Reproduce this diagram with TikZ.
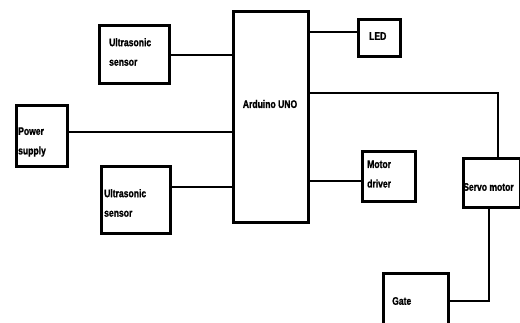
\documentclass[tikz,border=0pt]{standalone}
\usepackage{fontspec}
\setmainfont[FakeStretch=0.78,BoldFeatures={FakeBold=1.2}]{Liberation Sans}
\tikzset{
  box/.style={draw=black, line width=2.5pt, fill=white, inner sep=0pt, anchor=north west},
  lbl/.style={font=\bfseries\fontsize{11}{19.5}\selectfont, align=left, inner sep=0pt, anchor=west},
  wire/.style={draw=black, line width=2.3pt}
}
\begin{document}
\begin{tikzpicture}[x=1pt,y=-1pt]
\useasboundingbox (0,0) rectangle (520,322);
% boxes
\node[box, minimum width=70, minimum height=58] (us1) at (98,24) {};
\node[box, minimum width=51, minimum height=61] (pow) at (15,104) {};
\node[box, minimum width=75, minimum height=211] (ard) at (232,10) {};
\node[box, minimum width=69, minimum height=67] (us2) at (100,165) {};
\node[box, minimum width=42, minimum height=37] (led) at (357,18) {};
\node[box, minimum width=53, minimum height=50] (mot) at (361,150) {};
\node[box, minimum width=57, minimum height=49] (servo) at (462,157) {};
\node[box, minimum width=65, minimum height=60] (gate) at (382,272) {};
% labels
\node[lbl] (us1t) at (109,52) {Ultrasonic\\sensor};
\node[lbl] (powt) at (18,142) {Power\\supply};
\node[lbl] (us2t) at (104,203) {Ultrasonic\\sensor};
\node[lbl] (ledt) at (369,36) {LED};
\node[lbl] (mott) at (367,174) {Motor\\driver};
\node[lbl] (servot) at (463,187) {Servo motor};
\node[lbl] (gatet) at (392,301) {Gate};
\node[lbl, anchor=center] (ardt) at (270,104) {Arduino UNO};
% connectors
\coordinate (y1) at (0,55);
\coordinate (y2) at (0,132);
\coordinate (y3) at (0,187);
\coordinate (y4) at (0,32);
\coordinate (y5) at (0,181);
\coordinate (c1) at (498,93);
\coordinate (c2) at (489,301);
\draw[wire] (us1.east |- y1) -- (ard.west |- y1);
\draw[wire] (pow.east |- y2) -- (ard.west |- y2);
\draw[wire] (us2.east |- y3) -- (ard.west |- y3);
\draw[wire] (ard.east |- y4) -- (led.west |- y4);
\draw[wire] (ard.east |- y5) -- (mot.west |- y5);
\draw[wire] (ard.east |- c1) -- (c1) -- (c1 |- servo.north);
\draw[wire] (c2 |- servo.south) -- (c2) -- (gate.east |- c2);
\end{tikzpicture}
\end{document}
